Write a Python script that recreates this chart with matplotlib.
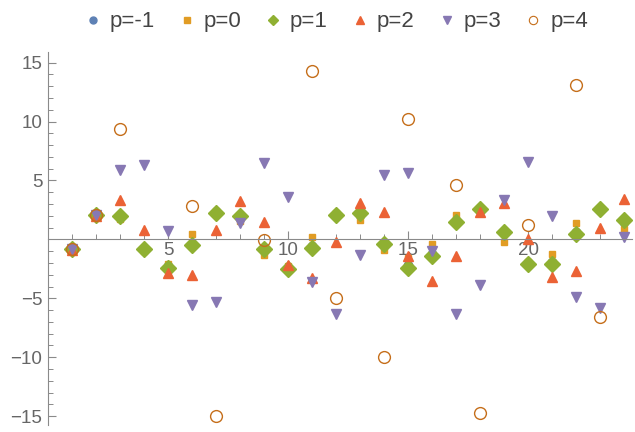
import numpy as np
import matplotlib
matplotlib.use("Agg")
import matplotlib.pyplot as plt
from matplotlib.ticker import MultipleLocator, FixedLocator

nan = np.nan
x = np.arange(1, 25)

p_m1 = [-0.8, 2.1, 1.9, -0.85, -2.3, -0.4, 2.25, 1.9, -0.9, -2.4, -0.6, 2.1, 2.1, -0.5, -2.2,
        -1.2, 1.6, 2.5, 0.5, -2.0, -1.9, 0.6, 2.5, 1.5]
p_0 = [-0.85, 2.0, 1.7, -1.0, -2.1, 0.47, 2.4, 1.6, -1.35, -2.3, 0.24, 2.2, 1.65, -0.89, -1.6,
       -0.38, 2.08, 2.5, -0.18, -1.9, -1.23, 1.42, 2.5, 0.89]
p_1 = [-0.8, 2.1, 1.95, -0.83, -2.4, -0.47, 2.2, 2.0, -0.83, -2.5, -0.7, 2.1, 2.2, -0.38, -2.45,
       -1.4, 1.5, 2.55, 0.65, -2.1, -2.1, 0.45, 2.55, 1.65]
p_2 = [-0.9, 2.0, 3.35, 0.8, -2.85, -3.0, 0.8, 3.25, 1.5, -2.15, -3.3, -0.2, 3.1, 2.35, -1.4,
       -3.5, -1.4, 2.35, 3.05, 0.05, -3.15, -2.7, 1.0, 3.4]
p_3 = [-0.8, 2.1, 5.9, 6.3, 0.7, -5.6, -5.3, 1.4, 6.45, 3.6, -3.6, -6.3, -1.3, 5.45, 5.6,
       -0.95, -6.3, -3.85, 3.35, 6.6, 1.95, -4.9, -5.85, 0.2]
p_4 = [-0.8, 2.1, 9.4, nan, nan, 2.8, -15.0, nan, -0.05, nan, 14.3, -5.0, nan, -10.0, 10.2,
       nan, 4.65, -14.7, nan, 1.2, nan, 13.1, -6.6, nan]

labels = ["p=-1", "p=0", "p=1", "p=2", "p=3", "p=4"]
colors = ["#5E81B5", "#E19C24", "#8FB032", "#EB6235", "#8778B3", "#C56E1A"]

plt.rcParams['font.family'] = ['Liberation Sans', 'DejaVu Sans']

W, H = 635, 432
fig = plt.figure(figsize=(W / 100, H / 100), dpi=100)
ax = fig.add_axes([48 / W, 7 / H, (632 - 48) / W, (425 - 52) / H])

styles = [
    dict(marker='o', ms=6.0, mfc=colors[0], mec=colors[0]),
    dict(marker='s', ms=5.0, mfc=colors[1], mec=colors[1]),
    dict(marker='D', ms=8.0, mfc=colors[2], mec=colors[2]),
    dict(marker='^', ms=7.5, mfc=colors[3], mec=colors[3]),
    dict(marker='v', ms=7.5, mfc=colors[4], mec=colors[4]),
    dict(marker='o', ms=8.5, mfc='none', mec=colors[5], mew=1.0),
]
series = [p_m1, p_0, p_1, p_2, p_3, p_4]
for ys, st, lab in zip(series, styles, labels):
    ax.plot(x, ys, linestyle='none', label=lab, clip_on=True, **st)

ax.set_xlim(0, 24.33)
ax.set_ylim(-15.75, 15.9)

axis_col = "#8a8a8a"
for side in ['top', 'right']:
    ax.spines[side].set_visible(False)
ax.spines['left'].set_position(('data', 0))
ax.spines['bottom'].set_position(('data', 0))
ax.spines['left'].set_color(axis_col)
ax.spines['bottom'].set_color(axis_col)

ax.xaxis.set_major_locator(FixedLocator([5, 10, 15, 20]))
ax.xaxis.set_minor_locator(MultipleLocator(1))
ax.yaxis.set_major_locator(FixedLocator([-15, -10, -5, 5, 10, 15]))
ax.yaxis.set_minor_locator(MultipleLocator(1))
ax.set_yticklabels(["\u221215", "\u221210", "\u22125", "5", "10", "15"])

ax.tick_params(axis='x', which='major', direction='in', length=6, width=0.8,
               color=axis_col, labelcolor="#666666", labelsize=13.5, pad=2)
ax.tick_params(axis='x', which='minor', direction='in', length=3.5, width=0.7, color=axis_col)
ax.tick_params(axis='y', which='major', direction='in', length=6, width=0.8,
               color=axis_col, labelcolor="#666666", labelsize=13.5, pad=4)
ax.tick_params(axis='y', which='minor', direction='in', length=3.5, width=0.7, color=axis_col)
# x tick marks point upward from the axis, labels sit below it
for t in ax.xaxis.get_major_ticks() + ax.xaxis.get_minor_ticks():
    t.tick1line.set_marker(matplotlib.lines.TICKUP)

leg_styles = [
    dict(marker='o', ms=5, mfc=colors[0], mec=colors[0]),
    dict(marker='s', ms=4, mfc=colors[1], mec=colors[1]),
    dict(marker='D', ms=5, mfc=colors[2], mec=colors[2]),
    dict(marker='^', ms=5.5, mfc=colors[3], mec=colors[3]),
    dict(marker='v', ms=5.5, mfc=colors[4], mec=colors[4]),
    dict(marker='o', ms=6, mfc='none', mec=colors[5], mew=0.8),
]
leg_handles = [plt.Line2D([], [], linestyle='none', **st) for st in leg_styles]
fig.legend(leg_handles, labels, loc='upper center', bbox_to_anchor=(0.527, 1.02), ncol=6,
           frameon=False, fontsize=16, handletextpad=0.25, columnspacing=0.95,
           handlelength=1.0, labelcolor="#444444")

fig.savefig("out.png", dpi=100)
